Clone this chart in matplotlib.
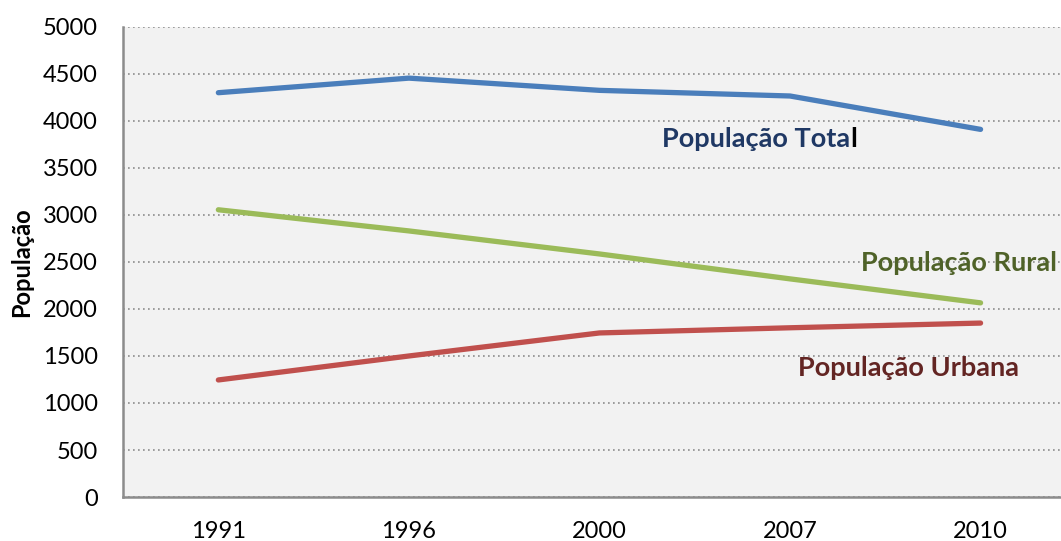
import matplotlib
matplotlib.use("Agg")
import matplotlib.pyplot as plt

anos = ["1991", "1996", "2000", "2007", "2010"]
pop_total = [4300, 4455, 4325, 4265, 3910]
pop_rural = [3055, 2830, 2585, 2320, 2065]
pop_urbana = [1245, 1500, 1745, 1800, 1850]
y_ticks = [0, 500, 1000, 1500, 2000, 2500, 3000, 3500, 4000, 4500, 5000]

plt.rcParams["font.family"] = ["Lato", "DejaVu Sans"]

fig = plt.figure(figsize=(10.61, 5.41), dpi=100)
ax = fig.add_axes([0.116, 0.0813, 0.898, 0.869])
ax.set_facecolor("#F2F2F2")

x = list(range(len(anos)))
ax.plot(x, pop_total, color="#4A7EBB", lw=3.8, solid_capstyle="round", zorder=3)
ax.plot(x, pop_rural, color="#9BBB59", lw=3.8, solid_capstyle="round", zorder=3)
ax.plot(x, pop_urbana, color="#C0504D", lw=3.8, solid_capstyle="round", zorder=3)

ax.set_xlim(-0.5, len(anos) - 0.5)
ax.set_ylim(0, 5000)
ax.set_xticks(x)
ax.set_xticklabels(anos)
ax.set_yticks(y_ticks)
ax.tick_params(axis="both", length=0, labelsize=17, colors="black")
ax.tick_params(axis="x", pad=17)
ax.tick_params(axis="y", pad=18)

ax.grid(axis="y", linestyle=(0, (1, 2)), color="#8C8C8C", lw=1.2)
ax.set_axisbelow(True)
for side in ["top", "right"]:
    ax.spines[side].set_visible(False)
for side in ["left", "bottom"]:
    ax.spines[side].set_color("#8C8C8C")
    ax.spines[side].set_linewidth(1.8)

ax.set_ylabel("População", fontsize=17, fontweight="bold", va="center")
ax.yaxis.set_label_coords(-0.106, 0.5)

# series labels
fs = 19.5
t = ax.text(2.33, 3810, "População Tota", color="#1F3864", fontsize=fs,
            fontweight="bold", va="center", ha="left")
fig.canvas.draw()
bb = t.get_window_extent()
x_end = ax.transData.inverted().transform((bb.x1, bb.y0))[0]
ax.text(x_end, 3810, "l", color="black", fontsize=fs, fontweight="bold",
        va="center", ha="left")
ax.text(3.375, 2490, "População Rural", color="#4F6228", fontsize=fs,
        fontweight="bold", va="center", ha="left")
ax.text(3.04, 1372, "População Urbana", color="#632523", fontsize=fs,
        fontweight="bold", va="center", ha="left")

fig.savefig("out.png", dpi=100)
